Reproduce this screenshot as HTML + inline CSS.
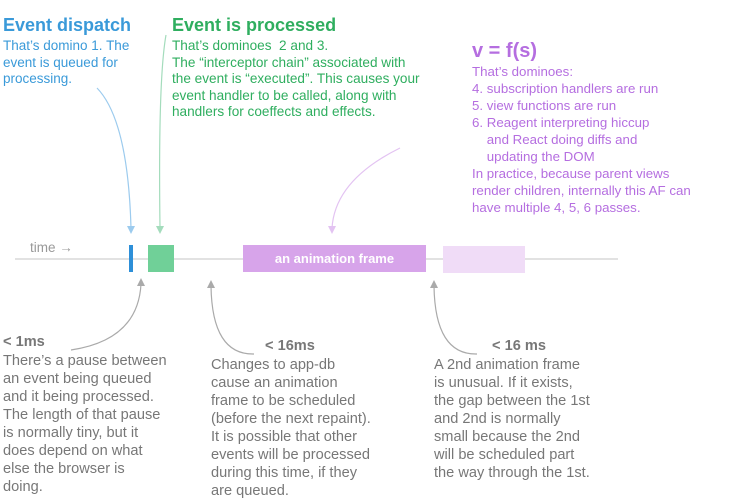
<!DOCTYPE html>
<html><head><meta charset="utf-8"><style>
body{margin:0;width:750px;height:502px;background:#fff;position:relative;overflow:hidden;font-family:"Liberation Sans",sans-serif}
.t{position:absolute;font-size:13.5px;line-height:16.5px;white-space:nowrap}
.h{font-weight:bold}
.b{color:#3a9ad9}.g{color:#2fae5f}.p{color:#b56ee0}.k{color:#777}
.bt{font-size:14.6px;line-height:18px}
</style></head><body>
<div class="t b h" style="left:3px;top:14px;font-size:18px;line-height:22px">Event dispatch</div>
<div class="t b" style="left:3px;top:38px">That’s domino 1. The<br>event is queued for<br>processing.</div>
<div class="t g h" style="left:172px;top:14px;font-size:18px;line-height:22px">Event is processed</div>
<div class="t g" style="left:172px;top:38px;font-size:13.6px">That’s dominoes&nbsp; 2 and 3.<br>The “interceptor chain” associated with<br>the event is “executed”. This causes your<br>event handler to be called, along with<br>handlers for coeffects and effects.</div>
<div class="t p h" style="left:472px;top:40px;font-size:20px;line-height:22px">v = f(s)</div>
<div class="t p" style="left:472px;top:63px;line-height:17px;font-size:13.3px">That’s dominoes:<br>4. subscription handlers are run<br>5. view functions are run<br>6. Reagent interpreting hiccup<br>&nbsp;&nbsp;&nbsp; and React doing diffs and<br>&nbsp;&nbsp;&nbsp; updating the DOM<br>In practice, because parent views<br>render children, internally this AF can<br>have multiple 4, 5, 6 passes.</div>

<div class="t" style="left:30px;top:240px;color:#999">time →</div>
<div style="position:absolute;left:15px;top:258px;width:603px;height:2px;background:#e2e2e2"></div>
<div style="position:absolute;left:129px;top:245px;width:4px;height:27px;background:#2d8fd8"></div>
<div style="position:absolute;left:148px;top:245px;width:26px;height:27px;background:#70d098"></div>
<div style="position:absolute;left:243px;top:245px;width:183px;height:27px;background:#d7a4ea;color:#fff;font-size:13px;line-height:27px;text-align:center;font-weight:bold">an animation frame</div>
<div style="position:absolute;left:443px;top:246px;width:82px;height:27px;background:#f0dcf7"></div>

<svg width="750" height="502" style="position:absolute;left:0;top:0" fill="none" stroke-width="1.2">
<path d="M97 88 Q128 120 131 228" stroke="#9ccbee"/><path d="M127 226 L131 234 L135 226Z" fill="#9ccbee" stroke="none"/>
<path d="M166 35 Q158 80 160 228" stroke="#a4dcbc"/><path d="M156 226 L160 234 L164 226Z" fill="#a4dcbc" stroke="none"/>
<path d="M400 148 Q335 180 332 228" stroke="#e3c3f2"/><path d="M328 226 L332 234 L336 226Z" fill="#e3c3f2" stroke="none"/>
<path d="M71 350 Q138 340 141 284" stroke="#aaa"/><path d="M137 286 L141 278 L145 286Z" fill="#aaa" stroke="none"/>
<path d="M254 354 Q212 355 211 286" stroke="#aaa"/><path d="M207 288 L211 280 L215 288Z" fill="#aaa" stroke="none"/>
<path d="M477 354 Q435 355 434 286" stroke="#aaa"/><path d="M430 288 L434 280 L438 288Z" fill="#aaa" stroke="none"/>
</svg>

<div class="t k h" style="left:3px;top:334px;font-size:14.6px">&lt; 1ms</div>
<div class="t k bt" style="left:3px;top:352px">There’s a pause between<br>an event being queued<br>and it being processed.<br>The length of that pause<br>is normally tiny, but it<br>does depend on what<br>else the browser is<br>doing.</div>
<div class="t k h" style="left:265px;top:338px;font-size:14.6px">&lt; 16ms</div>
<div class="t k bt" style="left:211px;top:356px">Changes to app-db<br>cause an animation<br>frame to be scheduled<br>(before the next repaint).<br>It is possible that other<br>events will be processed<br>during this time, if they<br>are queued.</div>
<div class="t k h" style="left:492px;top:338px;font-size:14.6px">&lt; 16 ms</div>
<div class="t k bt" style="left:434px;top:356px">A 2nd animation frame<br>is unusual. If it exists,<br>the gap between the 1st<br>and 2nd is normally<br>small because the 2nd<br>will be scheduled part<br>the way through the 1st.</div>
</body></html>
